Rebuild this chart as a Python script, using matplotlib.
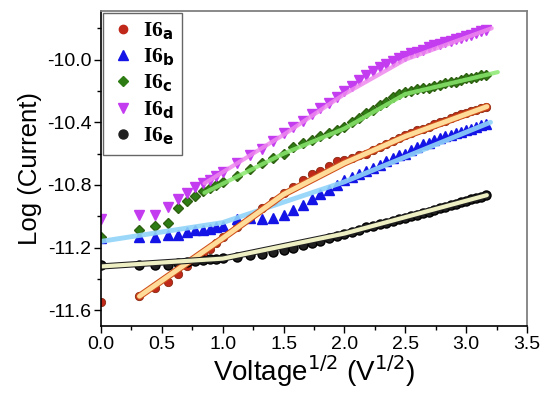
import numpy as np
import matplotlib
matplotlib.use("Agg")
import matplotlib.pyplot as plt
import matplotlib.patheffects as pe
from matplotlib.lines import Line2D
from matplotlib.ticker import MultipleLocator

plt.rcParams['font.family'] = ['Liberation Sans', 'DejaVu Sans']
plt.rcParams['axes.unicode_minus'] = False

# applied voltage (V); x axis is its square root
volts = [0, 0.1, 0.2, 0.3, 0.4, 0.5, 0.6, 0.7, 0.8, 0.9, 1.0,
         1.25, 1.5, 1.75, 2.0, 2.25, 2.5, 2.75, 3.0, 3.25, 3.5, 3.75,
         4.0, 4.25, 4.5, 4.75, 5.0, 5.25, 5.5, 5.75, 6.0, 6.25, 6.5, 6.75,
         7.0, 7.25, 7.5, 7.75, 8.0, 8.25, 8.5, 8.75, 9.0, 9.25, 9.5, 9.75, 10.0]

i6a = [-11.55, -11.51, -11.46, -11.42, -11.37, -11.32, -11.28, -11.24, -11.21, -11.17, -11.13,
       -11.07, -11.01, -10.95, -10.90, -10.85, -10.81, -10.77, -10.73, -10.71, -10.68, -10.65,
       -10.64, -10.63, -10.61, -10.60, -10.58, -10.56, -10.54, -10.52, -10.50, -10.48, -10.47, -10.45,
       -10.44, -10.43, -10.41, -10.40, -10.39, -10.37, -10.36, -10.35, -10.34, -10.33, -10.32, -10.31, -10.30]
i6b = [-11.14, -11.135, -11.13, -11.12, -11.12, -11.10, -11.09, -11.09, -11.08, -11.07, -11.06,
       -11.02, -11.01, -11.02, -11.01, -10.99, -10.96, -10.93, -10.89, -10.86, -10.83, -10.80,
       -10.77, -10.75, -10.73, -10.71, -10.69, -10.67, -10.65, -10.63, -10.61, -10.60, -10.58, -10.56,
       -10.54, -10.53, -10.51, -10.50, -10.49, -10.48, -10.47, -10.46, -10.45, -10.44, -10.43, -10.42, -10.41]
i6c = [-11.13, -11.09, -11.06, -11.04, -10.95, -10.90, -10.87, -10.84, -10.82, -10.80, -10.78,
       -10.74, -10.70, -10.66, -10.63, -10.60, -10.56, -10.53, -10.51, -10.49, -10.47, -10.45,
       -10.43, -10.40, -10.37, -10.34, -10.32, -10.29, -10.27, -10.24, -10.22, -10.21, -10.20, -10.19,
       -10.18, -10.18, -10.17, -10.16, -10.15, -10.14, -10.14, -10.13, -10.12, -10.12, -10.11, -10.10, -10.10]
i6d = [-11.02, -10.99, -10.99, -10.94, -10.89, -10.85, -10.81, -10.79, -10.77, -10.74, -10.72,
       -10.66, -10.61, -10.57, -10.52, -10.47, -10.43, -10.39, -10.35, -10.31, -10.28, -10.24,
       -10.20, -10.17, -10.13, -10.10, -10.07, -10.05, -10.03, -10.01, -9.99, -9.98, -9.96, -9.95,
       -9.94, -9.92, -9.91, -9.90, -9.89, -9.88, -9.87, -9.86, -9.85, -9.84, -9.83, -9.82, -9.81]
i6e = [-11.31, -11.31, -11.31, -11.31, -11.30, -11.29, -11.285, -11.28, -11.275, -11.27, -11.265,
       -11.26, -11.25, -11.24, -11.23, -11.215, -11.20, -11.185, -11.17, -11.155, -11.14, -11.125,
       -11.11, -11.10, -11.085, -11.07, -11.06, -11.05, -11.04, -11.03, -11.02, -11.01, -11.00, -10.99,
       -10.98, -10.97, -10.96, -10.95, -10.94, -10.93, -10.92, -10.91, -10.90, -10.89, -10.885, -10.875, -10.865]

# fitted curves (sqrt(V), log I)
fit_a_x = [0.316, 1.0, 1.5, 2.0, 2.5, 3.17]
fit_a_y = [-11.51, -11.14, -10.86, -10.66, -10.49, -10.30]
fit_b_x = [0.0, 1.0, 2.0, 3.2]
fit_b_y = [-11.16, -11.04, -10.78, -10.40]
fit_c_x = [0.85, 1.5, 2.0, 2.5, 3.26]
fit_c_y = [-10.85, -10.60, -10.44, -10.22, -10.08]
fit_d_x = [0.85, 1.5, 2.0, 2.5, 3.21]
fit_d_y = [-10.79, -10.48, -10.22, -10.00, -9.80]
fit_e_x = [0.0, 1.0, 2.0, 3.17]
fit_e_y = [-11.32, -11.27, -11.11, -10.865]

labels = [r'I6$_\mathbf{a}$', r'I6$_\mathbf{b}$', r'I6$_\mathbf{c}$',
          r'I6$_\mathbf{d}$', r'I6$_\mathbf{e}$']

x = np.sqrt(volts)

fig = plt.figure(figsize=(5.5, 3.96), dpi=100)
ax = fig.add_axes([101/550, 70/396, 426/550, 315/396])

ax.plot(x, i6a, 'o', color='#c0281a', ms=6, mec='#8a2a10', mew=0.6)
ax.plot(x, i6b, '^', color='#1414e6', ms=6.5, mec='#1414e6')
ax.plot(x, i6c, 'D', color='#2e7d14', ms=5.5, mec='#2e6010')
ax.plot(x, i6d, 'v', color='#c43cf0', ms=6.5, mec='#c43cf0')
ax.plot(x, i6e, 'o', color='#202020', ms=6.5, mec='black')

# fit lines on top
ax.plot(fit_b_x, fit_b_y, color='#8fd3f8', lw=3.5, alpha=0.9, solid_capstyle='round')
ax.plot(fit_c_x, fit_c_y, color='#8be86f', lw=3.0, alpha=0.85, solid_capstyle='round')
ax.plot(fit_d_x, fit_d_y, color='#ee88ee', lw=3.0, alpha=0.85, solid_capstyle='round')
ax.plot(fit_a_x, fit_a_y, color='#ffdc9a', lw=3.5, solid_capstyle='round',
        path_effects=[pe.Stroke(linewidth=5, foreground='#d0501a'), pe.Normal()])
ax.plot(fit_e_x, fit_e_y, color='#eef0c4', lw=3.0, solid_capstyle='round',
        path_effects=[pe.Stroke(linewidth=4.5, foreground='#202020'), pe.Normal()])

ax.set_xlim(0, 3.5)
ax.set_ylim(-11.7, -9.69)
ax.xaxis.set_major_locator(MultipleLocator(0.5))
ax.xaxis.set_minor_locator(MultipleLocator(0.25))
ax.set_yticks([-11.6, -11.2, -10.8, -10.4, -10.0])
ax.yaxis.set_minor_locator(MultipleLocator(0.2))
ax.tick_params(which='major', direction='out', length=5, width=1, labelsize=14, pad=2)
ax.tick_params(which='minor', direction='out', length=3, width=1)
ax.tick_params(top=False, right=False)
for s in ['top', 'right']:
    ax.spines[s].set_color('#808080')
    ax.spines[s].set_linewidth(1.3)
for s in ['left', 'bottom']:
    ax.spines[s].set_linewidth(1.2)

ax.set_xlabel(r'Voltage$^{1/2}$ (V$^{1/2}$)', fontsize=20, labelpad=0)
ax.set_ylabel('Log (Current)', fontsize=18.5, labelpad=3)

handles = [
    Line2D([0], [0], marker='o', ls='none', color='#c0281a', ms=6),
    Line2D([0], [0], marker='^', ls='none', color='#1414e6', ms=6.5),
    Line2D([0], [0], marker='D', ls='none', color='#2e7d14', ms=5.5),
    Line2D([0], [0], marker='v', ls='none', color='#c43cf0', ms=6.5),
    Line2D([0], [0], marker='o', ls='none', color='#202020', ms=6.5),
]
leg = ax.legend(handles, labels, loc='upper left', bbox_to_anchor=(0.005, 0.995),
                borderaxespad=0,
                prop={'family': 'Liberation Serif', 'weight': 'bold', 'size': 15.5},
                frameon=True, fancybox=False, edgecolor='#404040',
                labelspacing=0.22, handletextpad=0.4, borderpad=0.35, handlelength=1.1)
leg.get_frame().set_linewidth(1.0)

fig.savefig('out.png', dpi=100)
